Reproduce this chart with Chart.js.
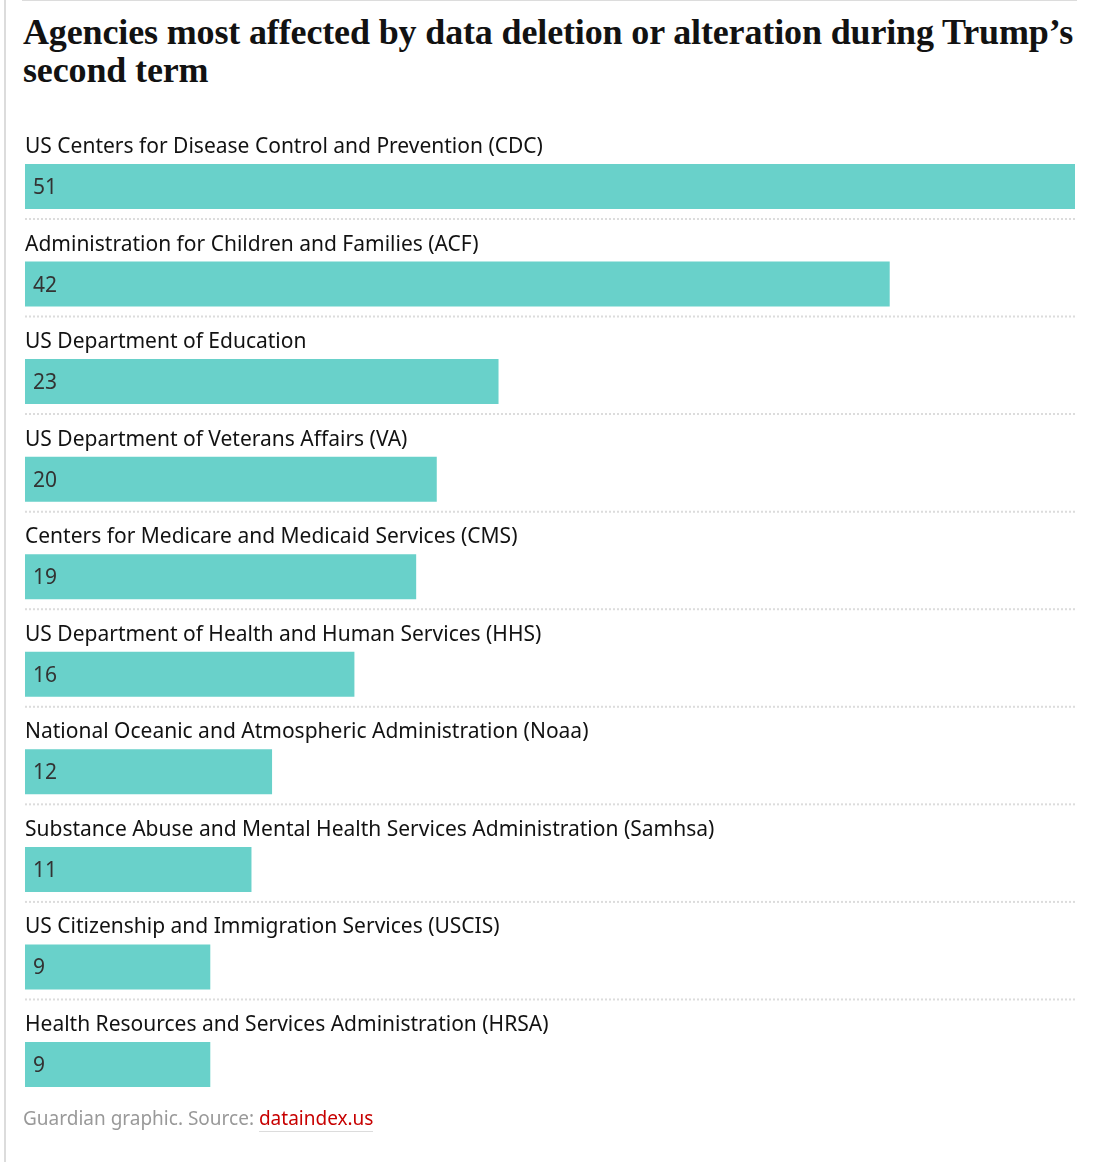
<!DOCTYPE html>
<html>
<head>
<meta charset="utf-8">
<script src="https://cdn.jsdelivr.net/npm/chart.js@4"></script>
<style>
  html, body { margin: 0; padding: 0; background: #fff; }
  body { width: 1104px; height: 1162px; position: relative; overflow: hidden; }
  .leftrule { position: absolute; left: 4px; top: 0; width: 2px; height: 1162px; background: #dcdcdc; }
  .toprule { position: absolute; left: 22px; top: 0; width: 1055px; height: 1px; background: #dcdcdc; }
  h1 { position: absolute; left: 23px; top: 14px; width: 1078px; margin: 0;
       font-family: "Liberation Serif", serif; font-weight: 700; font-size: 36px; line-height: 37.5px;
       color: #121212; letter-spacing: -0.14px; }
  .wrap { position: absolute; left: 0; top: 100px; width: 1104px; height: 1062px; }
  .footer { position: absolute; left: 23px; top: 1105px; font-family: "Noto Sans", sans-serif; font-size: 19px; color: #999; }
  .footer a { color: #c70000; text-decoration: none; border-bottom: 1px solid #dcdcdc; }
</style>
</head>
<body>
<div class="leftrule"></div>
<div class="toprule"></div>
<h1>Agencies most affected by data deletion or alteration during Trump’s second term</h1>
<div class="wrap"><canvas id="c"></canvas></div>
<div class="footer">Guardian graphic. Source: <a href="#">dataindex.us</a></div>
<script>
const categories = [
  "US Centers for Disease Control and Prevention (CDC)",
  "Administration for Children and Families (ACF)",
  "US Department of Education",
  "US Department of Veterans Affairs (VA)",
  "Centers for Medicare and Medicaid Services (CMS)",
  "US Department of Health and Human Services (HHS)",
  "National Oceanic and Atmospheric Administration (Noaa)",
  "Substance Abuse and Mental Health Services Administration (Samhsa)",
  "US Citizenship and Immigration Services (USCIS)",
  "Health Resources and Services Administration (HRSA)"
];
const values = [51, 42, 23, 20, 19, 16, 12, 11, 9, 9];

const labelFont = '21px "Noto Sans", sans-serif';

const labelPlugin = {
  id: 'rowLabels',
  afterDatasetsDraw(chart) {
    const ctx = chart.ctx;
    const meta = chart.getDatasetMeta(0);
    const area = chart.chartArea;
    ctx.save();
    meta.data.forEach((bar, i) => {
      const y = bar.y;
      ctx.font = labelFont;
      ctx.textBaseline = 'alphabetic';
      ctx.textAlign = 'left';
      ctx.fillStyle = '#121212';
      ctx.fillText(categories[i], area.left, y - 33.5);
      ctx.fillStyle = '#333333';
      ctx.fillText(String(values[i]), area.left + 8, y + 7.5);
      if (i < meta.data.length - 1) {
        ctx.strokeStyle = '#dcdcdc';
        ctx.lineWidth = 2;
        ctx.setLineDash([2, 2]);
        ctx.beginPath();
        ctx.moveTo(area.left, y + 32.5);
        ctx.lineTo(area.right, y + 32.5);
        ctx.stroke();
      }
    });
    ctx.restore();
  }
};

new Chart(document.getElementById('c'), {
  type: 'bar',
  data: {
    labels: categories,
    datasets: [{
      data: values,
      backgroundColor: '#69d1ca',
      borderWidth: 0,
      barPercentage: 1,
      categoryPercentage: 0.4613
    }]
  },
  options: {
    indexAxis: 'y',
    responsive: true,
    maintainAspectRatio: false,
    animation: false,
    events: [],
    layout: { padding: { left: 25, right: 29, top: 37.7, bottom: 48.7 } },
    plugins: { legend: { display: false }, tooltip: { enabled: false } },
    scales: {
      x: { display: false, min: 0, max: 51 },
      y: { display: false }
    }
  },
  plugins: [labelPlugin]
});
</script>
</body>
</html>
